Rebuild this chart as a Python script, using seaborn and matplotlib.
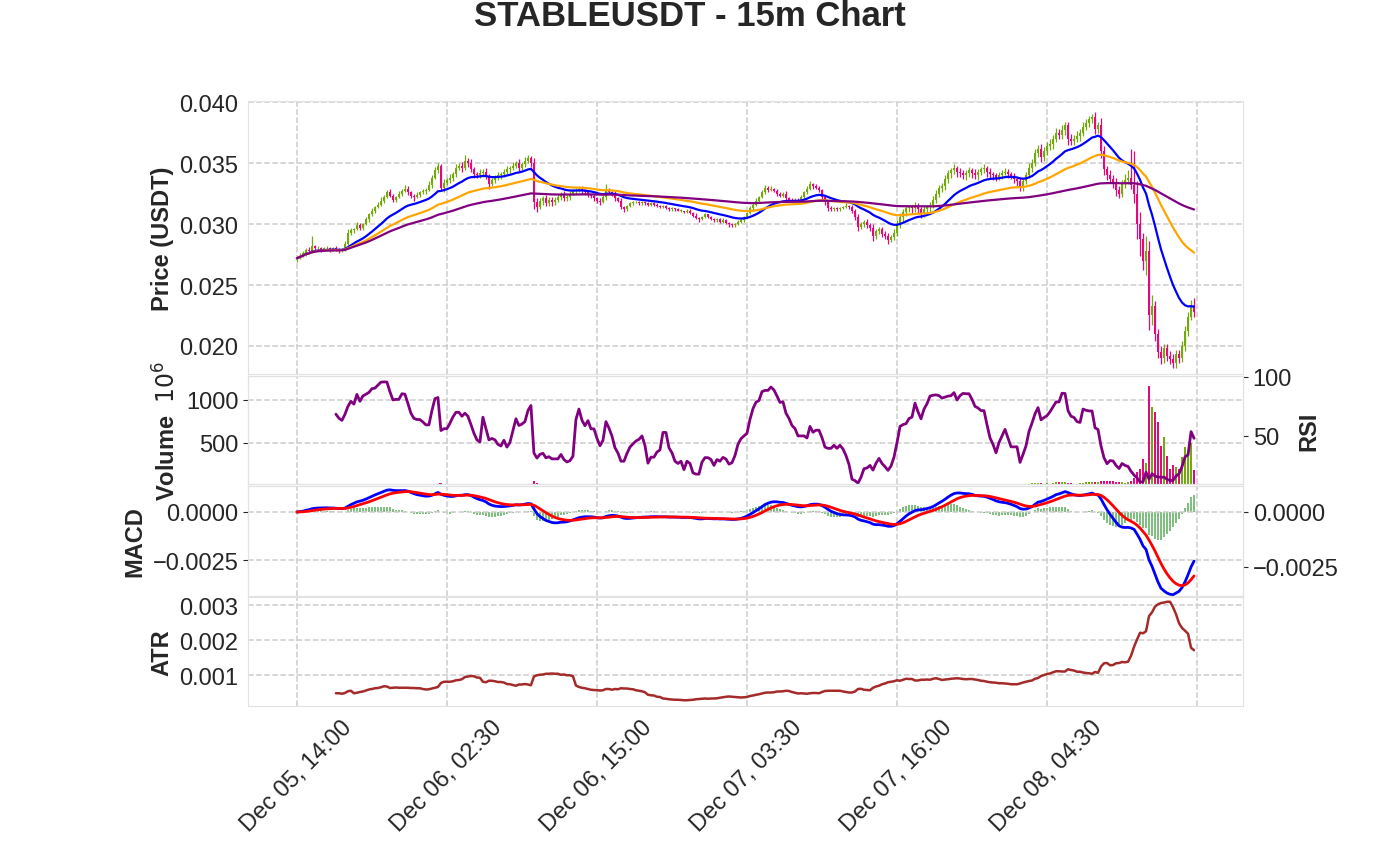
import numpy as np
import pandas as pd
import matplotlib
matplotlib.use("Agg")
import matplotlib.pyplot as plt
import seaborn as sns

# 15m candles from Dec 05 14:00, prices in units of 0.0001 USDT
first_open_bp = 271
close_bp = [
    272, 274, 276, 279, 278, 282, 280, 280, 279, 280, 280, 279, 280, 279, 278, 279, 284, 293, 295, 296, 299, 297, 300, 304, 308,
    311, 314, 316, 319, 322, 326, 323, 320, 322, 325, 327, 329, 326, 323, 322, 324, 326, 327, 328, 332, 338, 344, 348, 330, 334,
    336, 338, 341, 346, 348, 346, 352, 350, 345, 341, 340, 342, 343, 339, 333, 336, 338, 340, 341, 343, 345, 346, 348, 350, 346,
    349, 352, 354, 350, 318, 314, 319, 321, 317, 320, 318, 320, 322, 324, 321, 322, 325, 327, 328, 329, 327, 326, 324, 323, 321,
    319, 318, 322, 328, 326, 325, 321, 319, 314, 312, 315, 317, 318, 318, 317, 318, 317, 316, 317, 316, 315, 314, 315, 313, 312,
    313, 312, 311, 311, 310, 311, 309, 307, 305, 304, 306, 308, 306, 304, 303, 304, 302, 303, 301, 300, 299, 300, 302, 303, 306,
    309, 313, 316, 319, 322, 326, 330, 328, 329, 327, 325, 323, 325, 321, 320, 319, 320, 319, 322, 326, 329, 333, 331, 330, 328,
    322, 318, 313, 312, 313, 312, 313, 314, 315, 314, 311, 306, 298, 300, 302, 299, 297, 290, 294, 296, 292, 290, 287, 289, 293,
    300, 306, 310, 313, 314, 313, 315, 312, 309, 312, 314, 316, 320, 325, 330, 331, 337, 342, 344, 346, 343, 342, 340, 342, 344,
    342, 340, 343, 345, 346, 343, 341, 340, 338, 340, 342, 343, 341, 339, 337, 335, 330, 335, 340, 346, 350, 358, 362, 355, 360,
    364, 366, 370, 375, 373, 377, 381, 370, 368, 370, 372, 375, 380, 383, 386, 388, 378, 381, 360, 345, 340, 337, 334, 328, 325,
    333, 336, 338, 332, 325, 300, 288, 270, 278, 225, 233, 210, 195, 190, 198, 192, 189, 186, 193, 190, 200, 212, 224, 234, 228,
]
# upper / lower shadow lengths, same units
wick_hi = [
    1, 2, 2, 1, 2, 8, 1, 2, 1, 1, 2, 1, 1, 2, 1, 1, 2, 3, 2, 1, 3, 2, 1, 2, 1,
    2, 1, 2, 3, 2, 2, 3, 2, 1, 2, 2, 3, 2, 1, 2, 2, 1, 2, 2, 3, 2, 3, 2, 1, 3,
    2, 3, 2, 3, 2, 3, 5, 2, 3, 2, 2, 3, 2, 3, 2, 2, 2, 3, 2, 2, 3, 2, 3, 2, 3,
    2, 3, 3, 2, 4, 3, 2, 2, 3, 2, 2, 2, 2, 2, 3, 2, 2, 2, 2, 2, 2, 2, 2, 1, 2,
    1, 2, 2, 5, 2, 1, 2, 1, 2, 1, 1, 1, 1, 1, 1, 1, 1, 1, 1, 1, 1, 1, 1, 1, 1,
    1, 0, 1, 1, 0, 1, 1, 1, 2, 1, 1, 1, 0, 1, 1, 1, 1, 2, 1, 1, 1, 1, 1, 1, 1,
    1, 2, 1, 2, 1, 2, 2, 1, 2, 1, 2, 1, 1, 2, 1, 1, 1, 1, 2, 1, 2, 2, 1, 2, 1,
    1, 2, 1, 2, 1, 1, 1, 1, 2, 1, 2, 1, 2, 2, 1, 2, 2, 3, 2, 2, 2, 2, 3, 2, 3,
    3, 3, 2, 3, 2, 2, 3, 2, 2, 3, 2, 2, 3, 3, 2, 3, 3, 2, 2, 3, 2, 3, 2, 2, 3,
    2, 3, 2, 2, 3, 2, 3, 2, 2, 3, 2, 3, 2, 2, 3, 2, 4, 3, 3, 4, 3, 4, 3, 4, 3,
    3, 4, 3, 4, 3, 4, 3, 3, 4, 3, 4, 3, 4, 3, 3, 2, 4, 3, 6, 4, 3, 4, 3, 4, 3,
    3, 5, 6, 24, 28, 10, 10, 5, 12, 8, 9, 4, 4, 5, 4, 4, 4, 4, 4, 4, 4, 4, 4, 4, 5,
]
wick_lo = [
    2, 1, 1, 2, 1, 2, 2, 1, 2, 1, 1, 2, 1, 1, 2, 1, 1, 1, 2, 2, 1, 2, 2, 1, 2,
    1, 2, 1, 1, 2, 1, 1, 2, 2, 1, 2, 1, 2, 2, 3, 1, 2, 1, 2, 1, 2, 1, 2, 3, 4,
    2, 2, 3, 2, 2, 3, 2, 3, 2, 3, 2, 2, 3, 2, 4, 2, 2, 2, 3, 2, 2, 3, 2, 2, 3,
    2, 2, 2, 3, 6, 4, 2, 3, 2, 2, 3, 2, 2, 2, 2, 2, 2, 1, 2, 2, 2, 2, 2, 2, 2,
    2, 2, 1, 2, 1, 2, 2, 1, 2, 2, 1, 1, 1, 1, 1, 1, 1, 1, 1, 1, 1, 1, 1, 1, 1,
    1, 1, 0, 1, 1, 1, 1, 1, 1, 2, 1, 1, 1, 1, 1, 1, 1, 1, 1, 2, 1, 1, 1, 1, 1,
    1, 1, 2, 1, 1, 1, 1, 2, 1, 1, 2, 1, 1, 1, 2, 1, 1, 1, 1, 1, 1, 1, 2, 1, 2,
    2, 2, 2, 1, 1, 1, 1, 1, 1, 2, 2, 3, 4, 2, 2, 2, 3, 4, 2, 2, 3, 2, 3, 2, 2,
    3, 3, 4, 3, 3, 4, 3, 3, 4, 3, 3, 4, 3, 3, 3, 4, 3, 3, 4, 3, 4, 3, 3, 4, 3,
    4, 3, 4, 3, 3, 4, 3, 4, 3, 2, 3, 2, 3, 2, 3, 4, 3, 3, 2, 2, 3, 2, 3, 4, 3,
    3, 3, 4, 3, 3, 3, 4, 5, 3, 3, 3, 4, 3, 3, 3, 3, 4, 3, 6, 5, 4, 3, 4, 5, 4,
    3, 3, 3, 3, 8, 12, 14, 8, 12, 12, 8, 6, 5, 5, 4, 4, 4, 4, 4, 4, 3, 4, 4, 3, 4,
]
# volume in millions
volume_m = [
    4, 3, 5, 6, 4, 9, 5, 3, 3, 2, 3, 2, 3, 2, 3, 3, 8, 14, 10, 7, 6, 5, 6, 8, 9,
    8, 7, 7, 9, 11, 10, 8, 7, 6, 8, 9, 10, 7, 6, 5, 6, 7, 6, 8, 12, 16, 22, 28, 31, 14,
    10, 9, 8, 11, 12, 9, 15, 22, 13, 10, 8, 7, 8, 9, 12, 8, 7, 6, 6, 7, 8, 7, 8, 9, 8,
    9, 10, 11, 12, 55, 32, 14, 10, 9, 8, 7, 6, 6, 7, 6, 5, 6, 7, 7, 6, 5, 5, 6, 6, 5,
    6, 5, 7, 10, 9, 8, 7, 6, 9, 7, 6, 5, 4, 4, 3, 4, 3, 3, 4, 3, 3, 3, 4, 3, 3,
    3, 3, 3, 3, 4, 4, 5, 6, 7, 6, 5, 5, 4, 4, 5, 4, 4, 3, 4, 4, 5, 4, 5, 6, 7,
    8, 9, 9, 10, 11, 12, 13, 10, 8, 7, 7, 6, 6, 7, 6, 5, 5, 5, 7, 8, 10, 12, 9, 8, 8,
    11, 10, 12, 8, 6, 5, 5, 5, 6, 6, 9, 14, 20, 26, 12, 9, 11, 16, 12, 10, 9, 11, 14, 12, 10,
    13, 15, 12, 10, 8, 8, 7, 9, 10, 9, 8, 9, 11, 13, 15, 14, 18, 20, 24, 16, 12, 11, 10, 9, 10,
    9, 8, 9, 10, 9, 8, 9, 8, 10, 8, 7, 8, 9, 11, 14, 18, 12, 15, 22, 28, 32, 30, 36, 34, 26,
    30, 28, 38, 42, 40, 44, 46, 38, 36, 28, 26, 30, 34, 44, 48, 46, 42, 50, 62, 58, 55, 60, 52, 50, 45,
    40, 36, 42, 62, 90, 160, 200, 314, 267, 1166, 915, 860, 740, 465, 570, 350, 198, 245, 218, 200, 333, 450, 390, 500, 180,
]
tick_pos = [0, 50, 100, 150, 200, 250, 300]
tick_labels = ["Dec 05, 14:00", "Dec 06, 02:30", "Dec 06, 15:00", "Dec 07, 03:30",
               "Dec 07, 16:00", "Dec 08, 04:30", ""]

UP, DOWN = "#74a90d", "#e4087c"

sns.set_style("whitegrid", {"grid.linestyle": "--", "grid.color": "#cdcdcd",
                            "axes.edgecolor": "#e2e2e2", "axes.linewidth": 2.4})
plt.rcParams["font.family"] = ["Liberation Sans", "DejaVu Sans"]
plt.rcParams["grid.linewidth"] = 1.1

x = np.arange(len(close_bp))
close = pd.Series(close_bp, dtype=float) / 1e4
opn = close.shift(1).fillna(first_open_bp / 1e4)
high = np.maximum(opn, close) + np.array(wick_hi) / 1e4
low = np.minimum(opn, close) - np.array(wick_lo) / 1e4
vol = np.array(volume_m, dtype=float)
colors = np.where(close >= opn, UP, DOWN)

# indicators
ema20 = close.ewm(span=20).mean()
ema50 = close.ewm(span=50).mean()
ema200 = close.ewm(span=200).mean()
macd = close.ewm(span=12, adjust=False).mean() - close.ewm(span=26, adjust=False).mean()
signal = macd.ewm(span=9, adjust=False).mean()
hist = macd - signal
delta = close.diff()
gain = delta.where(delta > 0, 0).rolling(14).mean()
loss = (-delta.where(delta < 0, 0)).rolling(14).mean()
rsi = 100 - 100 / (1 + gain / loss)
prev = close.shift(1)
tr = pd.concat([high - low, (high - prev).abs(), (low - prev).abs()], axis=1).max(axis=1)
atr = tr.rolling(14).mean()

fig = plt.figure(figsize=(13.8, 8.62), dpi=100)
L, W = 0.1797, 0.721
ax_p = fig.add_axes([L, 0.565, W, 0.3167])
ax_v = fig.add_axes([L, 0.4374, W, 0.1253], sharex=ax_p)
ax_m = fig.add_axes([L, 0.3074, W, 0.1276], sharex=ax_p)
ax_a = fig.add_axes([L, 0.1798, W, 0.1265], sharex=ax_p)

FS = 17

# price panel
ax_p.vlines(x, low, high, colors=colors, lw=0.9)
ax_p.bar(x, (close - opn).abs().clip(lower=0.00002), bottom=np.minimum(opn, close),
         width=0.65, color=colors, lw=0)
sns.lineplot(x=x, y=ema20, ax=ax_p, color="blue", lw=1.6)
sns.lineplot(x=x, y=ema50, ax=ax_p, color="orange", lw=1.6)
sns.lineplot(x=x, y=ema200, ax=ax_p, color="purple", lw=1.6)
ax_p.set_ylim(0.0177, 0.0401)
ax_p.set_yticks([0.020, 0.025, 0.030, 0.035, 0.040])
ax_p.set_ylabel("Price (USDT)", fontsize=FS, fontweight="bold")

# volume + RSI
ax_v.bar(x, vol, width=0.95, color=colors, lw=0)
ax_v.set_ylim(23, 1279)
ax_v.set_yticks([500, 1000])
ax_v.set_ylabel("Volume  $10^{6}$", fontsize=FS, fontweight="bold")
ax_r = ax_v.twinx()
sns.lineplot(x=x, y=rsi, ax=ax_r, color="purple", lw=2)
ax_r.grid(False)
ax_r.set_ylim(9.3, 100.8)
ax_r.set_yticks([50, 100])
ax_r.set_ylabel("RSI", fontsize=FS, fontweight="bold")

# MACD
ax_h = ax_m.twinx()
ax_h.bar(x, hist, width=0.75, color="green", alpha=0.5, lw=0)
ax_h.grid(False)
ax_h.set_ylim(-0.00382, 0.00118)
ax_h.set_yticks([-0.0025, 0.0])
ax_m.set_zorder(ax_h.get_zorder() + 1)
ax_m.patch.set_visible(False)
sns.lineplot(x=x, y=macd, ax=ax_m, color="blue", lw=2)
sns.lineplot(x=x, y=signal, ax=ax_m, color="red", lw=2)
ax_m.set_ylim(-0.00437, 0.00135)
ax_m.set_yticks([-0.0025, 0.0])
ax_m.set_ylabel("MACD", fontsize=FS, fontweight="bold")

# ATR
sns.lineplot(x=x, y=atr, ax=ax_a, color="brown", lw=1.8)
ax_a.set_ylim(0.000114, 0.00323)
ax_a.set_yticks([0.001, 0.002, 0.003])
ax_a.set_ylabel("ATR", fontsize=FS, fontweight="bold")

ax_a.set_xlim(-16.3, 315.3)
ax_a.set_xticks(tick_pos)
ax_a.set_xticklabels(tick_labels, rotation=45, ha="center")
for ax in (ax_p, ax_v, ax_m, ax_a, ax_r, ax_h):
    ax.tick_params(labelsize=FS, labelcolor="#262626")
    ax.set_xlabel("")
for ax in (ax_p, ax_v, ax_m):
    ax.tick_params(labelbottom=False)

fig.text(0.5, 1 - 16 / 862, "STABLEUSDT - 15m Chart", ha="center", va="center",
         fontsize=25, fontweight="bold", color="#262626")

fig.savefig("out.png", dpi=100)
